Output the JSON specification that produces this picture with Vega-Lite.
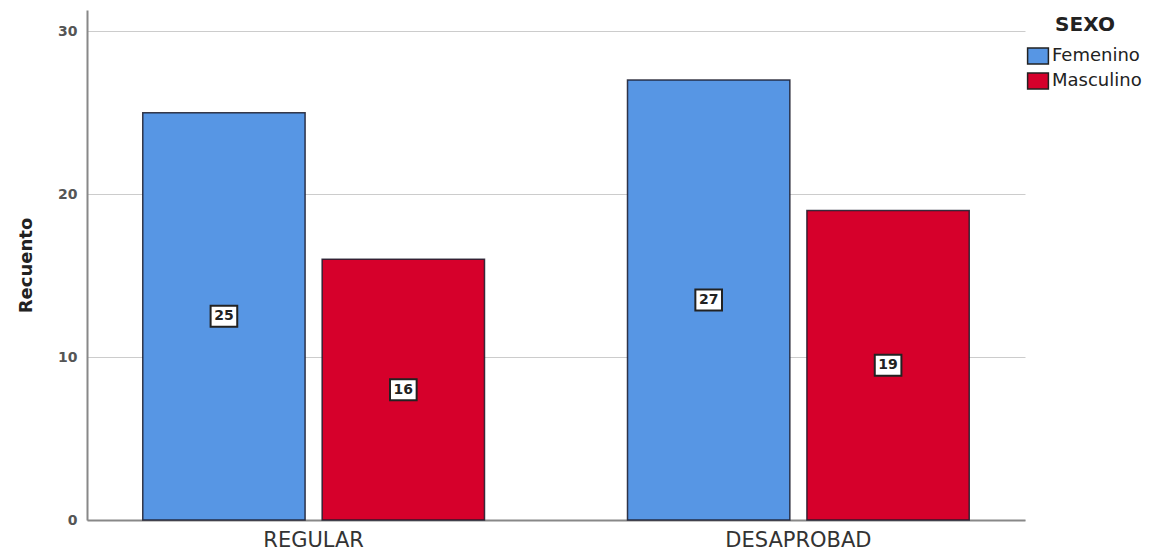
{
  "$schema": "https://vega.github.io/schema/vega-lite/v6.json",
  "autosize": {"type": "none"},
  "width": 938,
  "height": 510,
  "padding": {"left": 87, "top": 10, "right": 134, "bottom": 32},
  "background": "white",
  "config": {
    "font": "DejaVu Sans",
    "view": {"stroke": null}
  },
  "data": {
    "values": [
      {"categoria": "REGULAR", "SEXO": "Femenino", "recuento": 25},
      {"categoria": "REGULAR", "SEXO": "Masculino", "recuento": 16},
      {"categoria": "DESAPROBAD", "SEXO": "Femenino", "recuento": 27},
      {"categoria": "DESAPROBAD", "SEXO": "Masculino", "recuento": 19}
    ]
  },
  "encoding": {
    "x": {
      "field": "categoria",
      "type": "nominal",
      "sort": ["REGULAR", "DESAPROBAD"],
      "scale": {"paddingInner": 0.295, "paddingOuter": 0.115},
      "axis": {
        "title": null,
        "labelAngle": 0,
        "labelFontSize": 21,
        "labelColor": "#333333",
        "labelPadding": 9,
        "ticks": false,
        "domainColor": "#888888",
        "domainWidth": 2,
        "grid": false
      }
    },
    "xOffset": {
      "field": "SEXO",
      "type": "nominal",
      "scale": {"paddingInner": 0.095, "paddingOuter": 0}
    }
  },
  "layer": [
    {
      "mark": {"type": "bar", "stroke": "#1a1a2a", "strokeWidth": 1.5, "strokeOpacity": 0.85},
      "encoding": {
        "y": {
          "field": "recuento",
          "type": "quantitative",
          "scale": {"domain": [0, 31.3], "nice": false},
          "axis": {
            "title": "Recuento",
            "titleFontSize": 18,
            "titleFontWeight": "bold",
            "titleColor": "#222222",
            "titlePadding": 22,
            "values": [0, 10, 20, 30],
            "labelFontSize": 14,
            "labelFontWeight": "bold",
            "labelColor": "#555555",
            "labelPadding": 10,
            "ticks": false,
            "domainColor": "#888888",
            "domainWidth": 2,
            "grid": true,
            "gridColor": "#cccccc",
            "gridWidth": 1
          }
        },
        "fill": {
          "field": "SEXO",
          "type": "nominal",
          "scale": {"domain": ["Femenino", "Masculino"], "range": ["#5796E4", "#D6002B"]},
          "legend": {
            "orient": "none",
            "legendX": 942,
            "legendY": 5,
            "title": "SEXO",
            "titleFontSize": 20,
            "titleFontWeight": "bold",
            "titleColor": "#222222",
            "titleAnchor": "middle",
            "titlePadding": 12,
            "symbolType": "M-1.3,-1H1.3V1H-1.3Z",
            "symbolSize": 256,
            "symbolStrokeColor": "#222222",
            "symbolStrokeWidth": 1.5,
            "labelFontSize": 18,
            "labelColor": "#222222",
            "labelOffset": 5,
            "rowPadding": 3
          }
        }
      }
    },
    {
      "mark": {
        "type": "point",
        "shape": "M-1.27,-1H1.27V1H-1.27Z",
        "size": 440,
        "filled": true,
        "fill": "white",
        "stroke": "#222222",
        "strokeWidth": 2,
        "opacity": 1
      },
      "encoding": {
        "y": {
          "field": "recuento",
          "type": "quantitative",
          "scale": {"domain": [0, 62.6], "nice": false},
          "axis": null
        }
      }
    },
    {
      "mark": {"type": "text", "fontSize": 14, "fontWeight": "bold", "color": "#222222", "baseline": "middle", "align": "center"},
      "encoding": {
        "y": {
          "field": "recuento",
          "type": "quantitative",
          "scale": {"domain": [0, 62.6], "nice": false},
          "axis": null
        },
        "text": {"field": "recuento", "type": "quantitative"}
      }
    }
  ],
  "resolve": {"scale": {"y": "independent"}, "axis": {"y": "independent"}}
}
